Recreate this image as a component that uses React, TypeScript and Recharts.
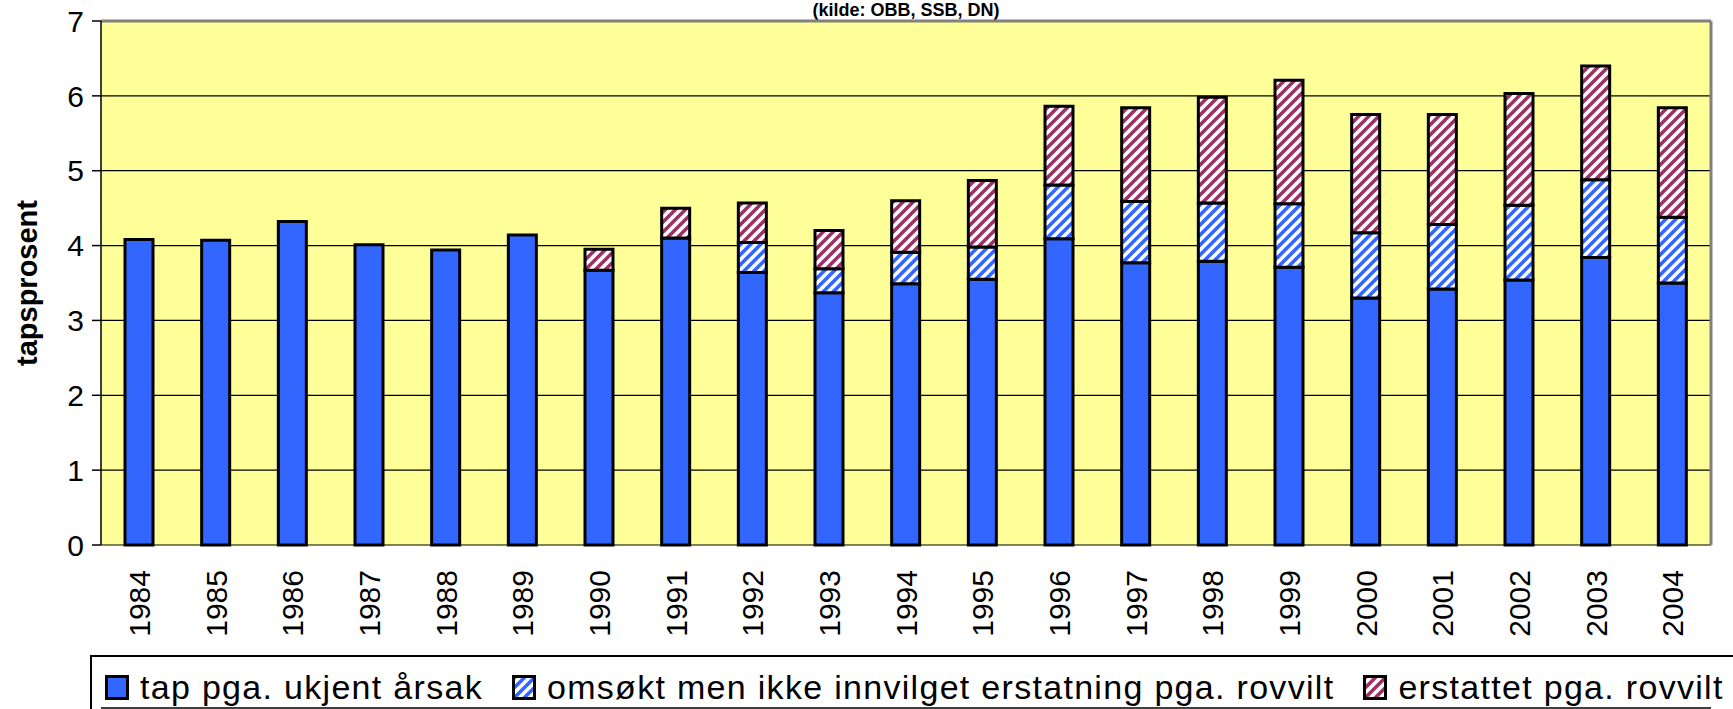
import { BarChart, Bar, XAxis, YAxis, CartesianGrid, ReferenceLine } from 'recharts';

const years = ['1984', '1985', '1986', '1987', '1988', '1989', '1990', '1991', '1992', '1993', '1994',
  '1995', '1996', '1997', '1998', '1999', '2000', '2001', '2002', '2003', '2004'];

// tap pga. ukjent årsak
const ukjent = [4.08, 4.07, 4.32, 4.01, 3.94, 4.14, 3.67, 4.10, 3.64, 3.37, 3.49,
  3.55, 4.09, 3.77, 3.79, 3.71, 3.30, 3.42, 3.54, 3.84, 3.50];
// omsøkt men ikke innvilget erstatning pga. rovvilt
const omsokt = [0, 0, 0, 0, 0, 0, 0, 0, 0.40, 0.32, 0.42,
  0.43, 0.72, 0.82, 0.78, 0.85, 0.87, 0.86, 1.00, 1.04, 0.88];
// erstattet pga. rovvilt
const erstattet = [0, 0, 0, 0, 0, 0, 0.28, 0.40, 0.53, 0.51, 0.69,
  0.89, 1.05, 1.25, 1.41, 1.65, 1.58, 1.47, 1.49, 1.52, 1.46];

const yTicks = [0, 1, 2, 3, 4, 5, 6, 7];
const boundaryTicks = years.map((_, i) => i).concat(years.length);

const BLUE = '#3366FF';
const RED = '#993366';
const FONT = '"Liberation Sans", Arial, sans-serif';

const series = [
  { key: 'ukjent', name: 'tap pga. ukjent årsak', fill: BLUE },
  { key: 'omsokt', name: 'omsøkt men ikke innvilget erstatning pga. rovvilt', fill: 'url(#stripeBlue)' },
  { key: 'erstattet', name: 'erstattet pga. rovvilt', fill: 'url(#stripeRed)' },
];

const data = years.map((year, i) => ({
  year,
  ukjent: ukjent[i],
  omsokt: omsokt[i],
  erstattet: erstattet[i],
}));

function Stripes({ id, color }: { id: string; color: string }) {
  return (
    <pattern id={id} patternUnits="userSpaceOnUse" width={10} height={10}>
      <rect width={10} height={10} fill={color} />
      <path d="M-2,2 l4,-4 M0,10 l10,-10 M8,12 l4,-4" stroke="#fff" strokeWidth={3.5} />
    </pattern>
  );
}

function YearTick(props: any) {
  const { x, y, payload } = props;
  return (
    <text
      x={x}
      y={y + 25}
      transform={`rotate(-90, ${x}, ${y + 25})`}
      textAnchor="end"
      dy="0.36em"
      fontSize={30}
      fontFamily={FONT}
      fill="#000"
    >
      {payload.value}
    </text>
  );
}

function LegendIcon({ idx, fill }: { idx: number; fill: string }) {
  const color = idx === 2 ? RED : BLUE;
  return (
    <svg width={24} height={25} style={{ display: 'block' }}>
      <defs>
        <Stripes id={`lg${idx}`} color={color} />
      </defs>
      <rect x={1.5} y={1.5} width={21} height={22} fill={idx === 0 ? fill : `url(#lg${idx})`} stroke="#000" strokeWidth={3} />
    </svg>
  );
}

export default function App() {
  return (
    <div style={{ position: 'absolute', left: 0, top: 0, width: 1733, height: 709, overflow: 'hidden', background: '#fff', fontFamily: FONT }}>
      <div
        style={{
          position: 'absolute', left: 101, top: 1, width: 1610, textAlign: 'center',
          fontSize: 18, lineHeight: '18px', fontWeight: 'bold', color: '#000',
        }}
      >
        (kilde: OBB, SSB, DN)
      </div>
      <div style={{ position: 'absolute', left: 0, top: 0 }}>
        <BarChart width={1733} height={709} data={data} margin={{ top: 21, right: 22, left: 0, bottom: 0 }}>
          <defs>
            <Stripes id="stripeBlue" color={BLUE} />
            <Stripes id="stripeRed" color={RED} />
          </defs>
          <CartesianGrid horizontal vertical={false} stroke="#000" strokeWidth={1.2} fill="#FFFF99" fillOpacity={1} />
          <XAxis
            xAxisId="b"
            type="number"
            dataKey={() => 0}
            domain={[0, years.length]}
            ticks={boundaryTicks}
            allowDataOverflow
            tick={false}
            tickSize={9}
            tickLine={{ stroke: '#000', strokeWidth: 1.5 }}
            axisLine={{ stroke: '#000', strokeWidth: 1.5 }}
            height={1}
          />
          <XAxis
            dataKey="year"
            interval={0}
            tickLine={false}
            axisLine={false}
            tickSize={0}
            tickMargin={0}
            tick={<YearTick />}
            height={163}
          />
          <YAxis
            domain={[0, 7]}
            ticks={yTicks}
            interval={0}
            width={101}
            tickSize={9}
            tickMargin={8}
            tick={{ fontSize: 30, fill: '#000', fontFamily: FONT }}
            tickLine={{ stroke: '#000', strokeWidth: 1.5 }}
            axisLine={{ stroke: '#000', strokeWidth: 1.5 }}
            label={{
              value: 'tapsprosent', angle: -90, position: 'center', dx: -24,
              style: { fontSize: 29, fontWeight: 'bold', fill: '#000', fontFamily: FONT },
            }}
          />
          <ReferenceLine y={7} stroke="#808080" strokeWidth={3} />
          <ReferenceLine x={years.length} xAxisId="b" stroke="#808080" strokeWidth={3} />
          {series.map((s) => (
            <Bar
              key={s.key}
              dataKey={s.key}
              name={s.name}
              stackId="tap"
              fill={s.fill}
              stroke="#000"
              strokeWidth={3}
              barSize={28}
              isAnimationActive={false}
            />
          ))}
        </BarChart>
      </div>
      <div
        style={{
          position: 'absolute', left: 90, top: 655, width: 1700, height: 80,
          border: '2px solid #000', boxSizing: 'border-box', display: 'flex',
          alignItems: 'center', paddingLeft: 13, paddingBottom: 16,
        }}
      >
        {series.map((s, i) => (
          <div key={s.key} style={{ display: 'flex', alignItems: 'center', marginRight: 29 }}>
            <LegendIcon idx={i} fill={s.fill} />
            <span style={{ fontSize: 34, lineHeight: '34px', letterSpacing: 1.3, marginLeft: 11, color: '#000' }}>{s.name}</span>
          </div>
        ))}
      </div>
    </div>
  );
}
